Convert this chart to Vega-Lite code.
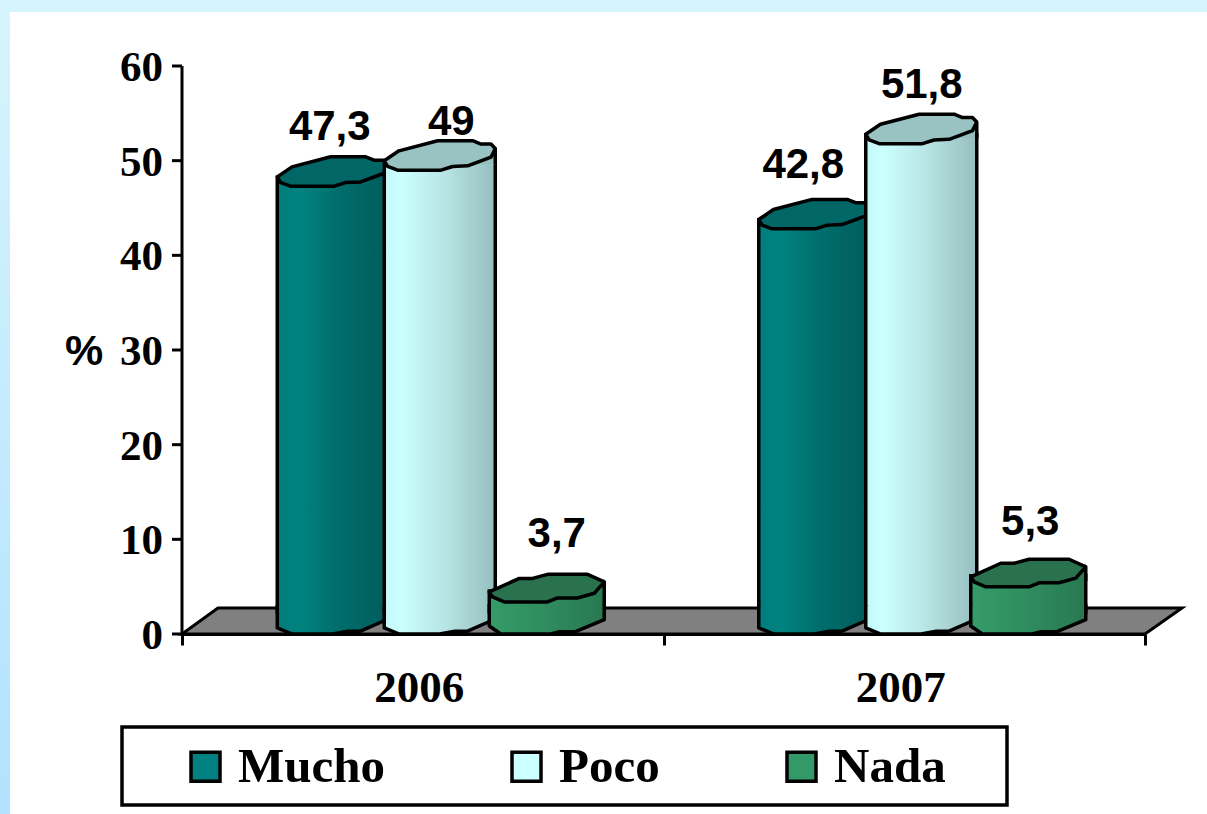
{"$schema":"https://vega.github.io/schema/vega-lite/v6.json","width":963,"height":568,"autosize":{"type":"none"},"padding":{"left":182,"top":66,"right":62,"bottom":180},"background":"#FFFFFF","datasets":{"d":[{"year":"2006","group":"Mucho","value":47.3,"label":"47,3"},{"year":"2006","group":"Poco","value":49,"label":"49"},{"year":"2006","group":"Nada","value":3.7,"label":"3,7"},{"year":"2007","group":"Mucho","value":42.8,"label":"42,8"},{"year":"2007","group":"Poco","value":51.8,"label":"51,8"},{"year":"2007","group":"Nada","value":5.3,"label":"5,3"}],"t":[{"v":0},{"v":10},{"v":20},{"v":30},{"v":40},{"v":50},{"v":60}]},"data":{"name":"d"},"resolve":{"scale":{"x":"independent"}},"layer":[{"data":{"values":[{"x0":-182,"x1":-172,"y0":65.7,"y1":-19.05}]},"mark":{"type":"rect","fill":{"gradient":"linear","x1":0,"y1":0,"x2":0,"y2":1,"stops":[{"offset":0,"color":"#D6F4FC"},{"offset":1,"color":"#B2E2FF"}]}},"encoding":{"x":{"field":"x0","type":"quantitative","axis":null,"scale":{"domain":[0,963]}},"x2":{"field":"x1"},"y":{"field":"y0","type":"quantitative","axis":null,"scale":{"domain":[0,60],"nice":false}},"y2":{"field":"y1"}}},{"data":{"values":[{"x0":-182,"x1":1025,"y0":66.97,"y1":65.7}]},"mark":{"type":"rect","fill":"#D6F4FC"},"encoding":{"x":{"field":"x0","type":"quantitative","axis":null,"scale":{"domain":[0,963]}},"x2":{"field":"x1"},"y":{"field":"y0","type":"quantitative","axis":null},"y2":{"field":"y1"}}},{"data":{"values":[{"x0":-60,"x1":825,"y0":-9.82,"y1":-18.06}]},"mark":{"type":"rect","fill":"#FFFFFF","stroke":"#000000","strokeWidth":3.5},"encoding":{"x":{"field":"x0","type":"quantitative","axis":null,"scale":{"domain":[0,963]}},"x2":{"field":"x1"},"y":{"field":"y0","type":"quantitative","axis":null},"y2":{"field":"y1"}}},{"data":{"values":[{"fy":0,"fa":0,"fb":963},{"fy":2.75,"fa":36,"fb":1000}]},"mark":{"type":"area","orient":"horizontal","fill":"#808080","stroke":"#000000","strokeWidth":3,"interpolate":"linear"},"encoding":{"y":{"field":"fy","type":"quantitative","axis":null},"x":{"field":"fa","type":"quantitative","axis":null,"scale":{"domain":[0,963]}},"x2":{"field":"fb"}}},{"data":{"name":"t"},"mark":{"type":"rule","stroke":"#000000","strokeWidth":3},"encoding":{"x":{"datum":-10,"type":"quantitative","axis":null,"scale":{"domain":[0,963]}},"x2":{"datum":0},"y":{"field":"v","type":"quantitative","axis":null}}},{"data":{"values":[{"a":0,"b":60}]},"mark":{"type":"rule","stroke":"#000000","strokeWidth":3},"encoding":{"x":{"datum":0,"type":"quantitative","axis":null,"scale":{"domain":[0,963]}},"y":{"field":"a","type":"quantitative","axis":null},"y2":{"field":"b"}}},{"data":{"name":"t"},"mark":{"type":"text","align":"right","baseline":"middle","dy":2,"font":"Liberation Serif","fontWeight":"bold","fontSize":43,"color":"#000000"},"encoding":{"x":{"datum":-19,"type":"quantitative","axis":null,"scale":{"domain":[0,963]}},"y":{"field":"v","type":"quantitative","axis":null},"text":{"field":"v","type":"quantitative"}}},{"data":{"values":[{"t":"%","v":30}]},"mark":{"type":"text","align":"center","baseline":"middle","dy":2,"font":"Liberation Sans","fontWeight":"bold","fontSize":43,"color":"#000000"},"encoding":{"x":{"datum":-98,"type":"quantitative","axis":null,"scale":{"domain":[0,963]}},"y":{"field":"v","type":"quantitative","axis":null},"text":{"field":"t"}}},{"encoding":{"x":{"field":"year","type":"nominal","scale":{"paddingInner":0,"paddingOuter":0},"axis":{"title":null,"zindex":1,"tickBand":"extent","labelAngle":0,"labelFont":"Liberation Serif","labelFontWeight":"bold","labelFontSize":45,"labelColor":"#000000","labelPadding":20,"labelOffset":-4,"domainColor":"#000000","domainWidth":3,"tickColor":"#000000","tickWidth":3,"tickSize":11,"grid":false}},"xOffset":{"field":"group","type":"nominal","sort":["Mucho","Poco","Nada"],"scale":{"domain":["Mucho","Poco","Nada"],"paddingInner":0,"paddingOuter":0.75,"align":0.606}},"y":{"field":"value","type":"quantitative","stack":null,"axis":null}},"layer":[{"mark":{"type":"bar","width":100,"y2Offset":-22},"encoding":{"y2":{"datum":0},"color":{"field":"group","type":"nominal","scale":{"domain":["Mucho","Poco","Nada"],"range":["#008080","#CCFFFF","#339966"]},"legend":{"title":null,"orient":"none","legendX":-1,"legendY":676,"direction":"horizontal","columns":3,"columnPadding":117,"padding":0,"symbolType":"square","symbolSize":841,"symbolStrokeColor":"#000000","symbolStrokeWidth":3.5,"symbolOpacity":1,"labelFont":"Liberation Serif","labelFontWeight":"bold","labelFontSize":49,"labelColor":"#000000","labelOffset":8,"labelLimit":400,"zindex":2}}}},{"transform":[{"filter":"datum.group==='Mucho'"}],"layer":[{"mark":{"type":"bar","width":111,"yOffset":-9,"y2Offset":-22,"stroke":"#000000","strokeWidth":3.5,"fill":{"gradient":"linear","x1":0,"y1":0,"x2":1,"y2":0,"stops":[{"offset":0,"color":"#007C7C"},{"offset":0.2,"color":"#008380"},{"offset":0.55,"color":"#006E6C"},{"offset":1,"color":"#005C5C"}]}},"encoding":{"y2":{"datum":0}}},{"mark":{"type":"point","shape":"M-1,-0.5 L1,-0.5 L1,-0.27 L0.5,-0.05 L0.27,-0.05 L0,0 L-0.73,0 L-1,-0.11 Z","size":12321,"filled":true,"opacity":1,"stroke":null,"fill":{"gradient":"linear","x1":0,"y1":0,"x2":1,"y2":0,"stops":[{"offset":0,"color":"#007C7C"},{"offset":0.2,"color":"#008380"},{"offset":0.55,"color":"#006E6C"},{"offset":1,"color":"#005C5C"}]}},"encoding":{"y":{"datum":0,"axis":null}}},{"mark":{"type":"point","shape":"M-1,-0.52 L-1,-0.11 L-0.73,0 L0,0 L0.27,-0.05 L0.5,-0.05 L1,-0.27 L1,-0.52","size":12321,"filled":false,"opacity":1,"stroke":"#000000","strokeWidth":3.5,"strokeJoin":"round"},"encoding":{"y":{"datum":0,"axis":null}}},{"mark":{"type":"point","shape":"M0.6,-0.1 L1,-0.1 L1,-0.4 Z","size":12321,"filled":true,"opacity":1,"stroke":null,"fill":"#005C5C"}},{"mark":{"type":"point","shape":"M-1,-0.168 L-0.735,-0.348 L-0.038,-0.53 L0.593,-0.53 L0.742,-0.47 L0.923,-0.47 L1,-0.391 L0.923,-0.234 L0.503,-0.077 L0.232,-0.066 L0.022,0 L-0.759,0 L-0.939,-0.066 Z M1,-0.391 L1,-0.1","size":12321,"filled":true,"opacity":1,"fill":"#006666","stroke":"#000000","strokeWidth":3.5,"strokeJoin":"round"}}]},{"transform":[{"filter":"datum.group==='Poco'"}],"layer":[{"mark":{"type":"bar","width":111,"yOffset":-9,"y2Offset":-22,"stroke":"#000000","strokeWidth":3.5,"fill":{"gradient":"linear","x1":0,"y1":0,"x2":1,"y2":0,"stops":[{"offset":0,"color":"#C4F8F8"},{"offset":0.15,"color":"#CCFFFF"},{"offset":0.55,"color":"#B8E4E4"},{"offset":1,"color":"#96BEBE"}]}},"encoding":{"y2":{"datum":0}}},{"mark":{"type":"point","shape":"M-1,-0.5 L1,-0.5 L1,-0.27 L0.5,-0.05 L0.27,-0.05 L0,0 L-0.73,0 L-1,-0.11 Z","size":12321,"filled":true,"opacity":1,"stroke":null,"fill":{"gradient":"linear","x1":0,"y1":0,"x2":1,"y2":0,"stops":[{"offset":0,"color":"#C4F8F8"},{"offset":0.15,"color":"#CCFFFF"},{"offset":0.55,"color":"#B8E4E4"},{"offset":1,"color":"#96BEBE"}]}},"encoding":{"y":{"datum":0,"axis":null}}},{"mark":{"type":"point","shape":"M-1,-0.52 L-1,-0.11 L-0.73,0 L0,0 L0.27,-0.05 L0.5,-0.05 L1,-0.27 L1,-0.52","size":12321,"filled":false,"opacity":1,"stroke":"#000000","strokeWidth":3.5,"strokeJoin":"round"},"encoding":{"y":{"datum":0,"axis":null}}},{"mark":{"type":"point","shape":"M0.6,-0.1 L1,-0.1 L1,-0.4 Z","size":12321,"filled":true,"opacity":1,"stroke":null,"fill":"#96BEBE"}},{"mark":{"type":"point","shape":"M-1,-0.168 L-0.735,-0.348 L-0.038,-0.53 L0.593,-0.53 L0.742,-0.47 L0.923,-0.47 L1,-0.391 L0.923,-0.234 L0.503,-0.077 L0.232,-0.066 L0.022,0 L-0.759,0 L-0.939,-0.066 Z M1,-0.391 L1,-0.1","size":12321,"filled":true,"opacity":1,"fill":"#99C2C2","stroke":"#000000","strokeWidth":3.5,"strokeJoin":"round"}}]},{"transform":[{"filter":"datum.group==='Nada'"}],"layer":[{"mark":{"type":"bar","width":115,"yOffset":-8,"y2Offset":-22,"stroke":"#000000","strokeWidth":3.5,"fill":{"gradient":"linear","x1":0,"y1":0,"x2":1,"y2":0,"stops":[{"offset":0,"color":"#359C68"},{"offset":0.5,"color":"#2F8C5E"},{"offset":1,"color":"#297850"}]}},"encoding":{"y2":{"datum":0}}},{"mark":{"type":"point","shape":"M-1,-0.5 L1,-0.5 L1,-0.25 L0.5,-0.04 L0.22,-0.04 L0.07,0 L-0.8,0 L-1,-0.14 Z","size":13225,"filled":true,"opacity":1,"stroke":null,"fill":{"gradient":"linear","x1":0,"y1":0,"x2":1,"y2":0,"stops":[{"offset":0,"color":"#359C68"},{"offset":0.5,"color":"#2F8C5E"},{"offset":1,"color":"#297850"}]}},"encoding":{"y":{"datum":0,"axis":null}}},{"mark":{"type":"point","shape":"M-1,-0.52 L-1,-0.14 L-0.8,0 L0.07,0 L0.22,-0.04 L0.5,-0.04 L1,-0.25 L1,-0.52","size":13225,"filled":false,"opacity":1,"stroke":"#000000","strokeWidth":3.5,"strokeJoin":"round"},"encoding":{"y":{"datum":0,"axis":null}}},{"mark":{"type":"point","shape":"M0.6,-0.1 L1,-0.1 L1,-0.4 Z","size":13225,"yOffset":3,"filled":true,"opacity":1,"stroke":null,"fill":"#297850"}},{"mark":{"type":"point","shape":"M-1,-0.174 L-0.478,-0.41 L-0.247,-0.41 L0.014,-0.48 L0.71,-0.48 L1,-0.348 L0.826,-0.151 L0.536,-0.07 L0.188,-0.07 L0.014,0 L-0.739,0 L-0.943,-0.087 Z M1,-0.348 L1,-0.1","size":13225,"yOffset":3,"filled":true,"opacity":1,"fill":"#2A724E","stroke":"#000000","strokeWidth":3.5,"strokeJoin":"round"}}]},{"transform":[{"filter":"datum.label==='47,3'"}],"mark":{"type":"text","font":"Liberation Sans","fontWeight":"bold","fontSize":42,"color":"#000000","baseline":"alphabetic","dx":-3,"dy":-46},"encoding":{"text":{"field":"label"}}},{"transform":[{"filter":"datum.label==='49'"}],"mark":{"type":"text","font":"Liberation Sans","fontWeight":"bold","fontSize":42,"color":"#000000","baseline":"alphabetic","dx":11.5,"dy":-35},"encoding":{"text":{"field":"label"}}},{"transform":[{"filter":"datum.label==='3,7'"}],"mark":{"type":"text","font":"Liberation Sans","fontWeight":"bold","fontSize":42,"color":"#000000","baseline":"alphabetic","dx":10,"dy":-52},"encoding":{"text":{"field":"label"}}},{"transform":[{"filter":"datum.label==='42,8'"}],"mark":{"type":"text","font":"Liberation Sans","fontWeight":"bold","fontSize":42,"color":"#000000","baseline":"alphabetic","dx":-11,"dy":-51},"encoding":{"text":{"field":"label"}}},{"transform":[{"filter":"datum.label==='51,8'"}],"mark":{"type":"text","font":"Liberation Sans","fontWeight":"bold","fontSize":42,"color":"#000000","baseline":"alphabetic","dx":0.5,"dy":-46},"encoding":{"text":{"field":"label"}}},{"transform":[{"filter":"datum.label==='5,3'"}],"mark":{"type":"text","font":"Liberation Sans","fontWeight":"bold","fontSize":42,"color":"#000000","baseline":"alphabetic","dx":2,"dy":-49},"encoding":{"text":{"field":"label"}}}]}],"config":{"view":{"stroke":null}}}
